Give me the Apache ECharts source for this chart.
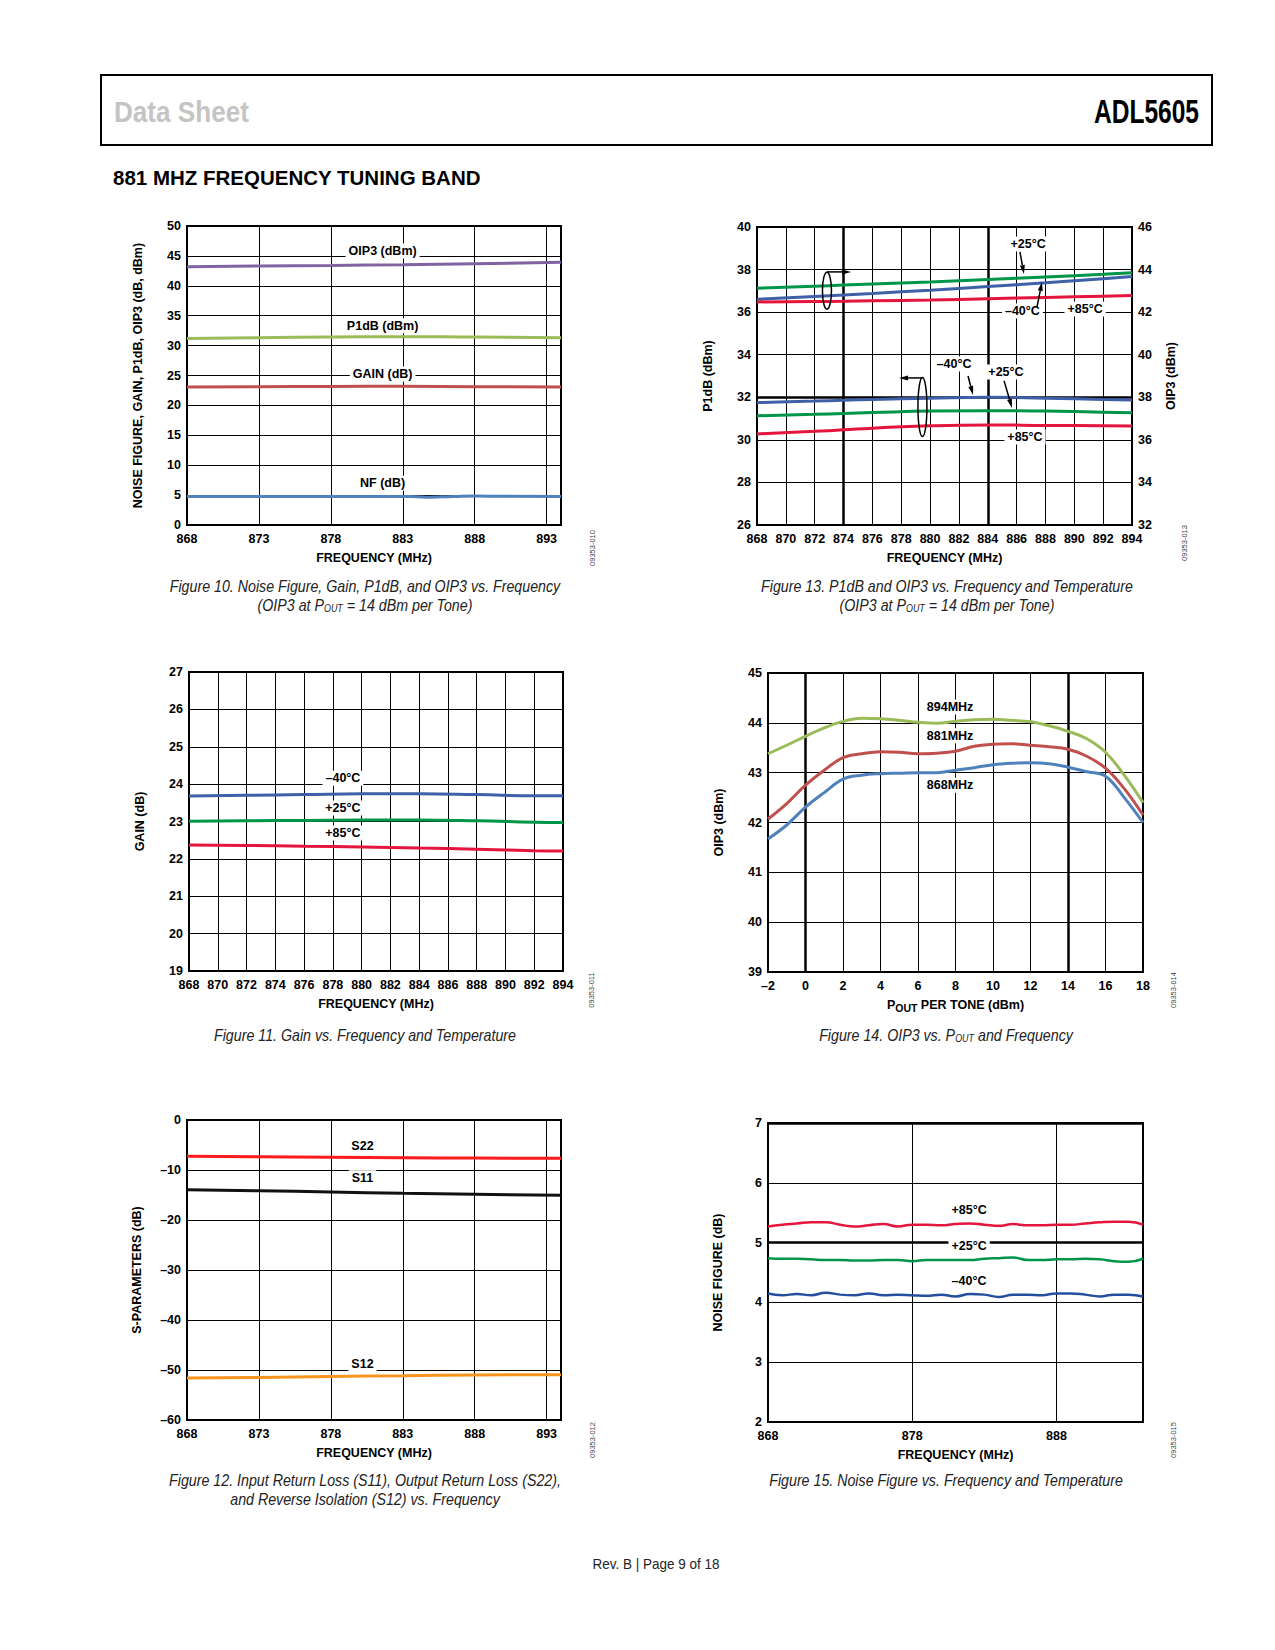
<!DOCTYPE html>
<html><head><meta charset="utf-8">
<script src="https://cdn.jsdelivr.net/npm/echarts@6/dist/echarts.min.js"></script>
<style>html,body{margin:0;padding:0;background:#fff}#c{width:1275px;height:1650px}</style>
</head><body><div id="c"></div>
<script>
// ---------------- DATA ----------------
// Figure 10
const fig10Freq = [868, 873, 878, 883, 888, 894];
const fig10OIP3 = [43.2, 43.3, 43.4, 43.53, 43.7, 43.92];
const fig10P1dB = [31.2, 31.3, 31.45, 31.5, 31.42, 31.33];
const fig10Gain = [23.08, 23.12, 23.17, 23.19, 23.12, 23.08];
const fig10NFFreq = [868, 873, 878, 882, 884, 884.8, 886.5, 888, 890, 894];
const fig10NF = [4.78, 4.78, 4.78, 4.78, 4.73, 4.66, 4.76, 4.84, 4.8, 4.78];
const fig10XTicks = [868, 873, 878, 883, 888, 893];
// Figure 13
const fig13Freq = [868, 872, 874, 876, 880, 884, 888, 892, 894];
const fig13OIP3p25 = [43.12, 43.22, 43.27, 43.32, 43.42, 43.53, 43.65, 43.78, 43.85];
const fig13OIP3m40 = [42.6, 42.74, 42.81, 42.88, 43.03, 43.2, 43.38, 43.57, 43.67];
const fig13OIP3p85 = [42.48, 42.5, 42.51, 42.53, 42.57, 42.63, 42.69, 42.75, 42.78];
const fig13P1m40 = [31.75, 31.82, 31.86, 31.9, 31.96, 32.0, 31.96, 31.9, 31.87];
const fig13P1p25 = [31.13, 31.2, 31.24, 31.28, 31.35, 31.37, 31.35, 31.3, 31.27];
const fig13P1p85 = [30.28, 30.4, 30.47, 30.55, 30.66, 30.7, 30.68, 30.66, 30.65];
const fig13BoldX = [874, 884];
const fig13BoldY = [32];
// Figure 11
const fig11Freq = [868, 872, 876, 880, 884, 888, 892, 894];
const fig11Gm40 = [23.68, 23.7, 23.72, 23.74, 23.74, 23.72, 23.69, 23.69];
const fig11Gp25 = [23.01, 23.02, 23.03, 23.04, 23.04, 23.02, 22.98, 22.97];
const fig11Gp85 = [22.37, 22.36, 22.34, 22.32, 22.29, 22.26, 22.22, 22.21];
// Figure 14
const fig14Pout = [-2, -1, 0, 1, 2, 3, 4, 5, 6, 7, 8, 9, 10, 11, 12, 13, 14, 15, 16, 17, 18];
const fig14F894 = [43.38, 43.55, 43.73, 43.9, 44.03, 44.09, 44.08, 44.05, 44.01, 43.99, 44.03, 44.06, 44.07, 44.05, 44.02, 43.94, 43.83, 43.68, 43.41, 42.95, 42.4];
const fig14F881 = [42.07, 42.38, 42.75, 43.05, 43.3, 43.38, 43.42, 43.41, 43.38, 43.39, 43.43, 43.53, 43.57, 43.58, 43.55, 43.52, 43.47, 43.33, 43.09, 42.68, 42.15];
const fig14F868 = [41.67, 41.95, 42.31, 42.6, 42.87, 42.95, 42.98, 42.99, 43.0, 43.0, 43.05, 43.1, 43.16, 43.19, 43.2, 43.18, 43.11, 43.02, 42.93, 42.5, 42.0];
const fig14BoldX = [0, 14];
// Figure 12
const fig12Freq = [868, 873, 878, 883, 888, 894];
const fig12S22 = [-7.27, -7.35, -7.45, -7.55, -7.62, -7.67];
const fig12S11 = [-13.93, -14.15, -14.4, -14.65, -14.85, -15.07];
const fig12S12 = [-51.6, -51.5, -51.3, -51.15, -51.0, -50.93];
const fig12XTicks = [868, 873, 878, 883, 888, 893];
// Figure 15
const fig15Freq = [868, 869, 870, 871, 872, 873, 874, 875, 876, 877, 878, 879, 880, 881, 882, 883, 884, 885, 886, 887, 888, 889, 890, 891, 892, 893, 894];
const fig15p85 = [5.27, 5.30, 5.32, 5.34, 5.34, 5.30, 5.27, 5.29, 5.31, 5.27, 5.30, 5.30, 5.29, 5.31, 5.32, 5.30, 5.28, 5.31, 5.29, 5.29, 5.30, 5.30, 5.32, 5.34, 5.35, 5.35, 5.30];
const fig15p25 = [4.74, 4.73, 4.73, 4.72, 4.71, 4.71, 4.70, 4.70, 4.71, 4.71, 4.69, 4.71, 4.71, 4.71, 4.71, 4.73, 4.74, 4.75, 4.71, 4.71, 4.72, 4.72, 4.73, 4.72, 4.69, 4.68, 4.73];
const fig15m40 = [4.15, 4.12, 4.14, 4.12, 4.16, 4.13, 4.12, 4.15, 4.12, 4.13, 4.12, 4.11, 4.13, 4.10, 4.14, 4.13, 4.09, 4.13, 4.13, 4.12, 4.15, 4.15, 4.13, 4.10, 4.13, 4.13, 4.10];
const fig15XTicks = [868, 878, 888];
const fig15BoldY = [5, 7];

// ---------------- CHART ----------------
const chart = echarts.init(document.getElementById('c'), null, {renderer: 'svg', width: 1275, height: 1650});
const FONT = '"Liberation Sans", Arial, Helvetica, sans-serif';
const lab = {color: '#000', fontSize: 12.5, fontWeight: 'bold', fontFamily: FONT};
const fmt = v => v < 0 ? '\u2013' + Math.abs(v) : String(v);

const gridBoxes = [
  {left: 187, top: 226, width: 374, height: 299},
  {left: 757, top: 227, width: 375, height: 298},
  {left: 189, top: 672, width: 374, height: 299},
  {left: 768, top: 673, width: 375, height: 299},
  {left: 187, top: 1120, width: 374, height: 300},
  {left: 768, top: 1123, width: 375, height: 299}
];
const grids = gridBoxes.map(g => Object.assign({show: true, borderColor: '#000', borderWidth: 2, backgroundColor: 'transparent', outerBoundsMode: 'none'}, g));

function xAxis(gi, min, max, interval, custom, name, nameGap, nameStyle) {
  const ax = {type: 'value', gridIndex: gi, min: min, max: max, name: name, nameLocation: 'middle', nameGap: nameGap,
    nameTextStyle: Object.assign({}, lab, nameStyle || {}),
    axisLine: {show: false}, axisTick: {show: false},
    axisLabel: Object.assign({margin: 7, formatter: fmt}, lab),
    splitLine: {show: true, lineStyle: {color: '#000', width: 1}}};
  if (custom) { ax.axisTick.customValues = custom; ax.axisLabel.customValues = custom; }
  else { ax.interval = interval; }
  return ax;
}
function yAxis(gi, min, max, interval, name, nameGap, position, split) {
  return {type: 'value', gridIndex: gi, min: min, max: max, interval: interval, position: position || 'left',
    name: name, nameLocation: 'middle', nameGap: nameGap, nameTextStyle: Object.assign({}, lab),
    axisLine: {show: false}, axisTick: {show: false},
    axisLabel: Object.assign({margin: 6, formatter: fmt}, lab),
    splitLine: {show: split !== false, lineStyle: {color: '#000', width: 1}}};
}
function line(name, gi, yi, xs, ys, color, width, smooth) {
  return {type: 'line', name: name, xAxisIndex: gi, yAxisIndex: yi,
    data: xs.map((x, i) => [x, ys[i]]), showSymbol: false, symbol: 'none',
    smooth: smooth === undefined ? true : smooth, lineStyle: {color: color, width: width}, itemStyle: {color: color},
    silent: true, animation: false, z: 3};
}
function bold(list, key, width) {
  return list.map(v => { const o = {}; o[key] = v; o.lineStyle = {width: width}; return o; });
}
function markLines(data) {
  return {silent: true, symbol: 'none', z: 2, animation: false, label: {show: false},
    lineStyle: {color: '#000', width: 2.5, type: 'solid'}, data: data};
}

const FREQ = 'FREQUENCY (MHz)';
const series = [
  // Fig 10 (grid 0)
  line('OIP3 (dBm)', 0, 0, fig10Freq, fig10OIP3, '#8064a2', 3),
  line('P1dB (dBm)', 0, 0, fig10Freq, fig10P1dB, '#9bbb59', 3),
  line('GAIN (dB)', 0, 0, fig10Freq, fig10Gain, '#c0504d', 3),
  line('NF (dB)', 0, 0, fig10NFFreq, fig10NF, '#4f81bd', 3),
  // Fig 13 (grid 1) OIP3 on right axis (2), P1dB on left axis (1)
  line('OIP3 +25°C', 1, 2, fig13Freq, fig13OIP3p25, '#00964a', 3),
  line('OIP3 \u201340°C', 1, 2, fig13Freq, fig13OIP3m40, '#3f5fa6', 3),
  line('OIP3 +85°C', 1, 2, fig13Freq, fig13OIP3p85, '#e4163d', 3),
  Object.assign(line('P1dB \u201340°C', 1, 1, fig13Freq, fig13P1m40, '#3f5fa6', 3),
    {markLine: markLines(bold(fig13BoldX, 'xAxis', 2.5).concat(bold(fig13BoldY, 'yAxis', 2.5)))}),
  line('P1dB +25°C', 1, 1, fig13Freq, fig13P1p25, '#00964a', 3),
  line('P1dB +85°C', 1, 1, fig13Freq, fig13P1p85, '#e4163d', 3),
  // Fig 11 (grid 2)
  line('\u201340°C', 2, 3, fig11Freq, fig11Gm40, '#3f5fa6', 3),
  line('+25°C', 2, 3, fig11Freq, fig11Gp25, '#00964a', 3),
  line('+85°C', 2, 3, fig11Freq, fig11Gp85, '#e4163d', 3),
  // Fig 14 (grid 3)
  Object.assign(line('894MHz', 3, 4, fig14Pout, fig14F894, '#9bbb59', 3, 0.4),
    {markLine: markLines(bold(fig14BoldX, 'xAxis', 2.5))}),
  line('881MHz', 3, 4, fig14Pout, fig14F881, '#c0504d', 3, 0.4),
  line('868MHz', 3, 4, fig14Pout, fig14F868, '#4f81bd', 3, 0.4),
  // Fig 12 (grid 4)
  line('S22', 4, 5, fig12Freq, fig12S22, '#ff1a1a', 3),
  line('S11', 4, 5, fig12Freq, fig12S11, '#111111', 3),
  line('S12', 4, 5, fig12Freq, fig12S12, '#f7941d', 3),
  // Fig 15 (grid 5)
  Object.assign(line('+85°C', 5, 6, fig15Freq, fig15p85, '#e4163d', 2.5, 0.5),
    {markLine: markLines(bold(fig15BoldY, 'yAxis', 2.5))}),
  line('+25°C', 5, 6, fig15Freq, fig15p25, '#00964a', 2.5, 0.5),
  line('\u201340°C', 5, 6, fig15Freq, fig15m40, '#234f9e', 2.5, 0.5)
];

const option = {
  animation: false,
  backgroundColor: '#fff',
  grid: grids,
  xAxis: [
    xAxis(0, 868, 894, null, fig10XTicks, FREQ, 26),
    xAxis(1, 868, 894, 2, null, FREQ, 26),
    xAxis(2, 868, 894, 2, null, FREQ, 26),
    xAxis(3, -2, 18, 2, null, 'P{s|OUT} PER TONE (dBm)', 24,
      {rich: {s: {fontSize: 10.5, fontWeight: 'bold', fontFamily: FONT, color: '#000', padding: [6, 0, 0, 0]}}}),
    xAxis(4, 868, 894, null, fig12XTicks, FREQ, 26),
    xAxis(5, 868, 894, null, fig15XTicks, FREQ, 26)
  ],
  yAxis: [
    yAxis(0, 0, 50, 5, 'NOISE FIGURE, GAIN, P1dB, OIP3 (dB, dBm)', 43),
    yAxis(1, 26, 40, 2, 'P1dB (dBm)', 43),
    yAxis(1, 32, 46, 2, 'OIP3 (dBm)', 32, 'right', false),
    yAxis(2, 19, 27, 1, 'GAIN (dB)', 43),
    yAxis(3, 39, 45, 1, 'OIP3 (dBm)', 43),
    yAxis(4, -60, 0, 10, 'S-PARAMETERS (dB)', 44),
    yAxis(5, 2, 7, 1, 'NOISE FIGURE (dB)', 44)
  ],
  series: series
};
chart.setOption(option);

// ---------------- ANNOTATIONS (data coords -> pixels) ----------------
const fig10Labels = [['OIP3 (dBm)', 881.6, 45.8], ['P1dB (dBm)', 881.6, 33.3], ['GAIN (dB)', 881.6, 25.25], ['NF (dB)', 881.6, 7.0]];
const fig13Labels = [['+25\u00b0C', 886.8, 39.2], ['\u201340\u00b0C', 886.4, 36.05], ['+85\u00b0C', 890.75, 36.15],
                     ['\u201340\u00b0C', 881.66, 33.56], ['+25\u00b0C', 885.26, 33.19], ['+85\u00b0C', 886.58, 30.13]];
const fig13Arrows = [[886.23, 38.83, 886.51, 37.79], [887.41, 36.24, 887.76, 37.42],
                     [882.63, 33.0, 882.98, 32.11], [885.13, 32.77, 885.68, 31.5],
                     [872.85, 37.89, 874.52, 37.89], [879.47, 32.91, 877.85, 32.91]];
const fig13Ellipses = [[872.85, 37.01, 4.5, 18.5], [879.47, 31.54, 4.5, 29.5]];
const fig11Labels = [['\u201340\u00b0C', 878.7, 24.16], ['+25\u00b0C', 878.7, 23.36], ['+85\u00b0C', 878.7, 22.69]];
const fig14Labels = [['894MHz', 7.71, 44.32], ['881MHz', 7.71, 43.74], ['868MHz', 7.71, 42.75]];
const fig12Labels = [['S22', 880.2, -5.2], ['S11', 880.2, -11.54], ['S12', 880.2, -48.74]];
const fig15Labels = [['+85\u00b0C', 881.94, 5.545], ['+25\u00b0C', 881.94, 4.94], ['\u201340\u00b0C', 881.94, 4.35]];

function P(gi, yi, x, y) { return chart.convertToPixel({xAxisIndex: gi, yAxisIndex: yi}, [x, y]); }
const els = [];
function txt(text, x, y, style, extra) {
  els.push(Object.assign({type: 'text', x: x, y: y, z: 100, silent: true,
    style: Object.assign({text: text, fill: '#000', font: 'bold 12.5px ' + FONT, align: 'center', verticalAlign: 'middle'}, style || {})}, extra || {}));
}
function plotLabels(list, gi, yi) {
  list.forEach(l => { const p = P(gi, yi, l[1], l[2]); txt(l[0], p[0], p[1], {backgroundColor: '#fff', padding: [1, 3]}); });
}
plotLabels(fig10Labels, 0, 0);
plotLabels(fig13Labels, 1, 1);
plotLabels(fig11Labels, 2, 3);
plotLabels(fig14Labels, 3, 4);
plotLabels(fig12Labels, 4, 5);
plotLabels(fig15Labels, 5, 6);

fig13Arrows.forEach(a => {
  const p1 = P(1, 1, a[0], a[1]), p2 = P(1, 1, a[2], a[3]);
  const dx = p2[0] - p1[0], dy = p2[1] - p1[1], L = Math.hypot(dx, dy), ux = dx / L, uy = dy / L;
  const head = 9, hw = 5;
  const b = [p2[0] - ux * head, p2[1] - uy * head];
  els.push({type: 'line', z: 101, silent: true, shape: {x1: p1[0], y1: p1[1], x2: b[0], y2: b[1]}, style: {stroke: '#000', lineWidth: 1.5}});
  els.push({type: 'polygon', z: 101, silent: true, shape: {points: [p2, [b[0] - uy * hw / 2, b[1] + ux * hw / 2], [b[0] + uy * hw / 2, b[1] - ux * hw / 2]]}, style: {fill: '#000'}});
});
fig13Ellipses.forEach(e => {
  const c = P(1, 1, e[0], e[1]);
  els.push({type: 'ellipse', z: 101, silent: true, shape: {cx: c[0], cy: c[1], rx: e[2], ry: e[3]}, style: {fill: 'none', stroke: '#000', lineWidth: 1.5}});
});

// page header
els.push({type: 'rect', z: 100, silent: true, shape: {x: 101, y: 75, width: 1111, height: 70}, style: {fill: 'none', stroke: '#000', lineWidth: 2}});
txt('Data Sheet', 114, 112, {font: 'bold 29px ' + FONT, fill: '#c4c4c4', align: 'left'}, {scaleX: 0.9});
txt('ADL5605', 1199, 112, {font: 'bold 32.5px ' + FONT, fill: '#000', align: 'right'}, {scaleX: 0.755});
txt('881 MHZ FREQUENCY TUNING BAND', 113, 177, {font: 'bold 20.5px ' + FONT, fill: '#000', align: 'left'});

// captions
const CAP = 'italic 16px ' + FONT;
const capRich = {s: {font: 'italic 10px ' + FONT, fill: '#222', padding: [6, 0, 0, 0]}};
function cap(text, x, y) { txt(text, x, y, {font: CAP, fill: '#222', rich: capRich}, {scaleX: 0.89}); }
cap('Figure 10. Noise Figure, Gain, P1dB, and OIP3 vs. Frequency', 365, 586);
cap('(OIP3 at P{s|OUT} = 14 dBm per Tone)', 365, 605);
cap('Figure 13. P1dB and OIP3 vs. Frequency and Temperature', 947, 586);
cap('(OIP3 at P{s|OUT} = 14 dBm per Tone)', 947, 605);
cap('Figure 11. Gain vs. Frequency and Temperature', 365, 1035);
cap('Figure 14. OIP3 vs. P{s|OUT} and Frequency', 946, 1035);
cap('Figure 12. Input Return Loss (S11), Output Return Loss (S22),', 365, 1480);
cap('and Reverse Isolation (S12) vs. Frequency', 365, 1499);
cap('Figure 15. Noise Figure vs. Frequency and Temperature', 946, 1480);
txt('Rev. B | Page 9 of 18', 656, 1564, {font: '15px ' + FONT, fill: '#222'}, {scaleX: 0.9});

// figure codes
[['09353-010', 592, 548], ['09353-013', 1184, 543], ['09353-011', 591, 990],
 ['09353-014', 1173, 990], ['09353-012', 592, 1440], ['09353-015', 1173, 1440]].forEach(c => {
  txt(c[0], c[1], c[2], {font: '7.5px ' + FONT, fill: '#444'}, {rotation: Math.PI / 2});
});

chart.setOption({graphic: {elements: els}});
</script>
</body></html>
